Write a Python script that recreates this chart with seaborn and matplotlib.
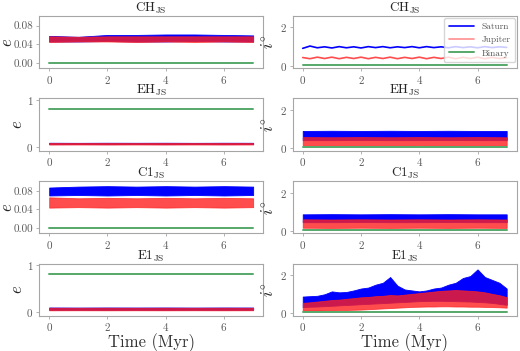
import numpy as np
import matplotlib
matplotlib.use("Agg")
import matplotlib.pyplot as plt
import seaborn as sns
import pandas as pd

# --- data ---
t_coarse = [0, 1, 2, 3, 4, 5, 6, 7]
t_fine = np.arange(0, 7.01, 0.25)

# CH_JS eccentricity (bands: lower / upper envelopes)
ch_e_sat_lo = [0.046, 0.046, 0.047, 0.046, 0.046, 0.047, 0.046, 0.046]
ch_e_sat_hi = [0.058, 0.056, 0.060, 0.060, 0.061, 0.061, 0.060, 0.059]
ch_e_jup_lo = [0.045, 0.046, 0.046, 0.045, 0.046, 0.045, 0.046, 0.045]
ch_e_jup_hi = [0.057, 0.056, 0.057, 0.057, 0.057, 0.057, 0.057, 0.057]
ch_e_bin = [0.0005] * 8

# CH_JS inclination (oscillating lines)
ch_i_sat = [0.90, 1.02, 0.93, 0.98, 0.92, 0.99, 0.93, 0.98, 0.92, 0.99, 0.94, 0.99, 0.93, 0.98, 0.94,
            0.99, 0.93, 0.99, 0.94, 0.98, 0.93, 0.99, 0.94, 0.98, 0.93, 0.99, 0.94, 0.98, 0.95]
ch_i_jup = [0.42, 0.36, 0.44, 0.37, 0.44, 0.36, 0.43, 0.37, 0.44, 0.36, 0.43, 0.37, 0.44, 0.36, 0.43,
            0.37, 0.44, 0.36, 0.43, 0.37, 0.44, 0.36, 0.43, 0.37, 0.44, 0.36, 0.43, 0.37, 0.42]
ch_i_bin = [0.05] * 8

# EH_JS
eh_e_sat_lo = [0.060, 0.061, 0.060, 0.061, 0.060, 0.061, 0.060, 0.061]
eh_e_sat_hi = [0.090, 0.088, 0.090, 0.089, 0.090, 0.088, 0.090, 0.089]
eh_e_jup_lo = [0.052, 0.053, 0.052, 0.053, 0.052, 0.053, 0.052, 0.053]
eh_e_jup_hi = [0.085, 0.084, 0.085, 0.084, 0.085, 0.084, 0.085, 0.084]
eh_e_bin = [0.81] * 8
eh_i_sat_lo = [0.42, 0.42, 0.43, 0.42, 0.42, 0.43, 0.42, 0.42]
eh_i_sat_hi = [0.90, 0.91, 0.90, 0.91, 0.90, 0.91, 0.90, 0.90]
eh_i_jup_lo = [0.16, 0.15, 0.16, 0.15, 0.16, 0.15, 0.16, 0.15]
eh_i_jup_hi = [0.58, 0.57, 0.58, 0.57, 0.58, 0.57, 0.58, 0.57]
eh_i_bin = [0.05] * 8

# C1_JS
c1_e_sat_lo = [0.070, 0.071, 0.070, 0.071, 0.070, 0.071, 0.070, 0.071]
c1_e_sat_hi = [0.087, 0.089, 0.090, 0.089, 0.090, 0.089, 0.090, 0.089]
c1_e_jup_lo = [0.044, 0.045, 0.044, 0.045, 0.044, 0.045, 0.044, 0.045]
c1_e_jup_hi = [0.066, 0.064, 0.065, 0.064, 0.065, 0.064, 0.065, 0.064]
c1_e_bin = [0.0005] * 8
c1_i_sat_lo = [0.45, 0.45, 0.46, 0.45, 0.45, 0.46, 0.45, 0.45]
c1_i_sat_hi = [0.86, 0.87, 0.86, 0.87, 0.86, 0.87, 0.86, 0.86]
c1_i_jup_lo = [0.16, 0.15, 0.16, 0.15, 0.16, 0.15, 0.16, 0.15]
c1_i_jup_hi = [0.60, 0.59, 0.60, 0.59, 0.60, 0.59, 0.60, 0.59]
c1_i_bin = [0.05] * 8

# E1_JS
e1_e_sat_lo = [0.050, 0.051, 0.050, 0.051, 0.050, 0.051, 0.050, 0.051]
e1_e_sat_hi = [0.100, 0.098, 0.100, 0.099, 0.100, 0.098, 0.100, 0.099]
e1_e_jup_lo = [0.040, 0.041, 0.040, 0.041, 0.040, 0.041, 0.040, 0.041]
e1_e_jup_hi = [0.095, 0.094, 0.095, 0.094, 0.095, 0.094, 0.095, 0.094]
e1_e_bin = [0.81] * 8
e1_i_sat_lo = [0.33, 0.35, 0.36, 0.38, 0.40, 0.42, 0.44, 0.46, 0.48, 0.50, 0.52, 0.54, 0.56, 0.58, 0.60,
               0.62, 0.64, 0.65, 0.66, 0.66, 0.65, 0.64, 0.63, 0.62, 0.60, 0.58, 0.55, 0.50, 0.45]
e1_i_sat_hi = [0.88, 0.90, 0.92, 1.00, 1.15, 1.10, 1.12, 1.20, 1.30, 1.35, 1.50, 1.60, 1.90, 1.45, 1.25,
               1.20, 1.15, 1.20, 1.30, 1.35, 1.50, 1.60, 1.85, 1.95, 2.30, 1.90, 1.75, 1.60, 1.30]
e1_i_jup_lo = [0.14, 0.15, 0.15, 0.16, 0.17, 0.18, 0.18, 0.19, 0.20, 0.22, 0.24, 0.26, 0.28, 0.30, 0.32,
               0.34, 0.35, 0.36, 0.36, 0.37, 0.37, 0.36, 0.36, 0.35, 0.35, 0.34, 0.33, 0.32, 0.30]
e1_i_jup_hi = [0.55, 0.58, 0.62, 0.66, 0.70, 0.72, 0.76, 0.80, 0.84, 0.86, 0.90, 0.92, 0.96, 0.94, 0.98,
               1.02, 1.06, 1.10, 1.14, 1.18, 1.20, 1.22, 1.20, 1.18, 1.15, 1.10, 1.02, 0.95, 0.85]
e1_i_bin = [0.05] * 8

titles = [r"$\mathrm{CH_{JS}}$", r"$\mathrm{EH_{JS}}$", r"$\mathrm{C1_{JS}}$", r"$\mathrm{E1_{JS}}$"]

SAT = "#0000ff"
JUP = "#ff2020"
BIN = "#55a868"

sns.set_style("ticks", {"axes.edgecolor": ".65", "xtick.color": ".65", "ytick.color": ".65"})
plt.rcParams["font.family"] = "serif"
plt.rcParams["font.serif"] = ["cmr10"]
plt.rcParams["mathtext.fontset"] = "cm"
plt.rcParams["axes.formatter.use_mathtext"] = True

fig, axes = plt.subplots(4, 2, figsize=(5.2, 3.51), dpi=100)
fig.subplots_adjust(left=0.075, right=0.994, top=0.955, bottom=0.1, wspace=0.13, hspace=0.58)


def band(ax, t, sat_lo, sat_hi, jup_lo, jup_hi, bin_vals, t_bin):
    ax.fill_between(t, sat_lo, sat_hi, color=SAT, lw=0.6, edgecolor=SAT)
    ax.fill_between(t, jup_lo, jup_hi, color=JUP, alpha=0.8, lw=0.6)
    sns.lineplot(x=t_bin, y=bin_vals, color=BIN, lw=1.4, ax=ax)


band(axes[0, 0], t_coarse, ch_e_sat_lo, ch_e_sat_hi, ch_e_jup_lo, ch_e_jup_hi, ch_e_bin, t_coarse)
band(axes[1, 0], t_coarse, eh_e_sat_lo, eh_e_sat_hi, eh_e_jup_lo, eh_e_jup_hi, eh_e_bin, t_coarse)
band(axes[2, 0], t_coarse, c1_e_sat_lo, c1_e_sat_hi, c1_e_jup_lo, c1_e_jup_hi, c1_e_bin, t_coarse)
band(axes[3, 0], t_coarse, e1_e_sat_lo, e1_e_sat_hi, e1_e_jup_lo, e1_e_jup_hi, e1_e_bin, t_coarse)

# CH inclination as lines with legend
ax = axes[0, 1]
sns.lineplot(x=t_fine, y=ch_i_sat, color=SAT, lw=1.2, label="Saturn", ax=ax)
sns.lineplot(x=t_fine, y=ch_i_jup, color=JUP, lw=1.2, alpha=0.8, label="Jupiter", ax=ax)
sns.lineplot(x=t_coarse, y=ch_i_bin, color=BIN, lw=1.4, label="Binary", ax=ax)
leg = ax.legend(loc="upper right", fontsize=6.8, frameon=True, handlelength=2.6,
                borderaxespad=0.2, labelspacing=0.5, framealpha=0.8, borderpad=0.5)
leg.get_frame().set_edgecolor(".8")
for txt in leg.get_texts():
    txt.set_color(".35")
leg.get_lines()[1].set_alpha(0.5)

band(axes[1, 1], t_coarse, eh_i_sat_lo, eh_i_sat_hi, eh_i_jup_lo, eh_i_jup_hi, eh_i_bin, t_coarse)
band(axes[2, 1], t_coarse, c1_i_sat_lo, c1_i_sat_hi, c1_i_jup_lo, c1_i_jup_hi, c1_i_bin, t_coarse)
band(axes[3, 1], t_fine, e1_i_sat_lo, e1_i_sat_hi, e1_i_jup_lo, e1_i_jup_hi, e1_i_bin, t_coarse)

for r in range(4):
    for c in range(2):
        ax = axes[r, c]
        ax.set_xlim(-0.35, 7.35)
        ax.set_xticks([0, 2, 4, 6])
        ax.tick_params(labelsize=8, labelcolor=".35", length=2.5, width=0.6, pad=1.5)
        ax.set_title(titles[r], fontsize=9.5, color=".15", pad=1)
        for s in ax.spines.values():
            s.set_visible(True)
            s.set_linewidth(0.8)
        if c == 0:
            if r in (0, 2):
                ax.set_ylim(-0.011, 0.101)
                ax.set_yticks([0.0, 0.04, 0.08])
                ax.set_yticklabels(["0.00", "0.04", "0.08"])
                ax.set_ylabel(r"$e$", fontsize=12, labelpad=-1)
            else:
                ax.set_ylim(-0.08, 1.04)
                ax.set_yticks([0, 1])
                ax.set_ylabel(r"$e$", fontsize=12, labelpad=1)
        else:
            ax.set_ylabel(r"$i^{\circ}$", fontsize=12, labelpad=3)
            ax.set_ylim(-0.13, 2.6)
            ax.set_yticks([0, 2])
        if r == 3:
            ax.set_xlabel("Time (Myr)", fontsize=12, color=".2", labelpad=0)
        else:
            ax.set_xlabel("")

fig.savefig("out.png", dpi=100)
